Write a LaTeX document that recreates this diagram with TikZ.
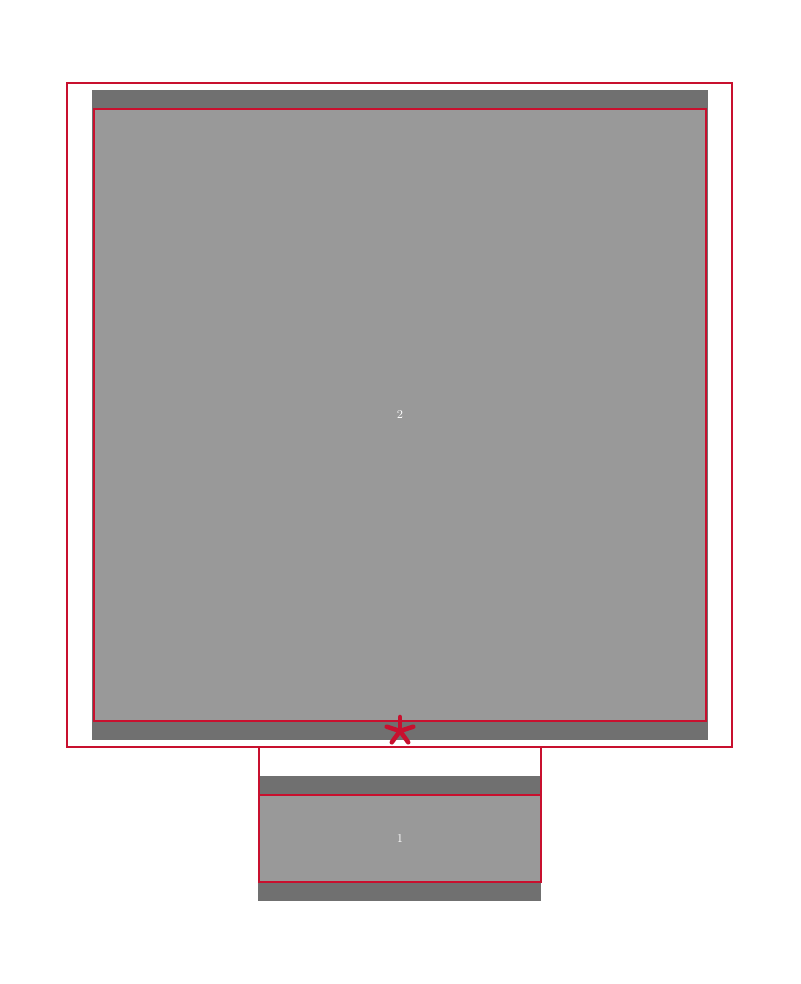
\documentclass[tikz,border=0pt]{standalone}
\definecolor{crim}{RGB}{200,16,46}
\definecolor{lightgr}{RGB}{153,153,153}
\definecolor{darkgr}{RGB}{112,112,112}
\begin{document}
\begin{tikzpicture}[x=0.75pt, y=-0.75pt, line width=1.1pt]
\useasboundingbox (0,0) rectangle (800,984);
% big part
\draw[crim](67,83) rectangle (732,747);
\fill[darkgr](92,90) rectangle (708,740);
\draw[crim, fill=lightgr](94,109) rectangle (706,721);
\node[white, font=\small] (two) at (400,415) {2};
% small part
\fill[darkgr](258,776) rectangle (541,901);
\draw[crim, fill=lightgr](259,795) rectangle (541,882);
\draw[crim](259,747) rectangle (541,882);
\node[white, font=\small] (one) at (400,838) {1};
% asterisk
\foreach \a in {270,342,54,126,198}
  \draw[crim, line width=3.4pt, line cap=round](400,731)--++(\a:14);
\end{tikzpicture}
\end{document}
